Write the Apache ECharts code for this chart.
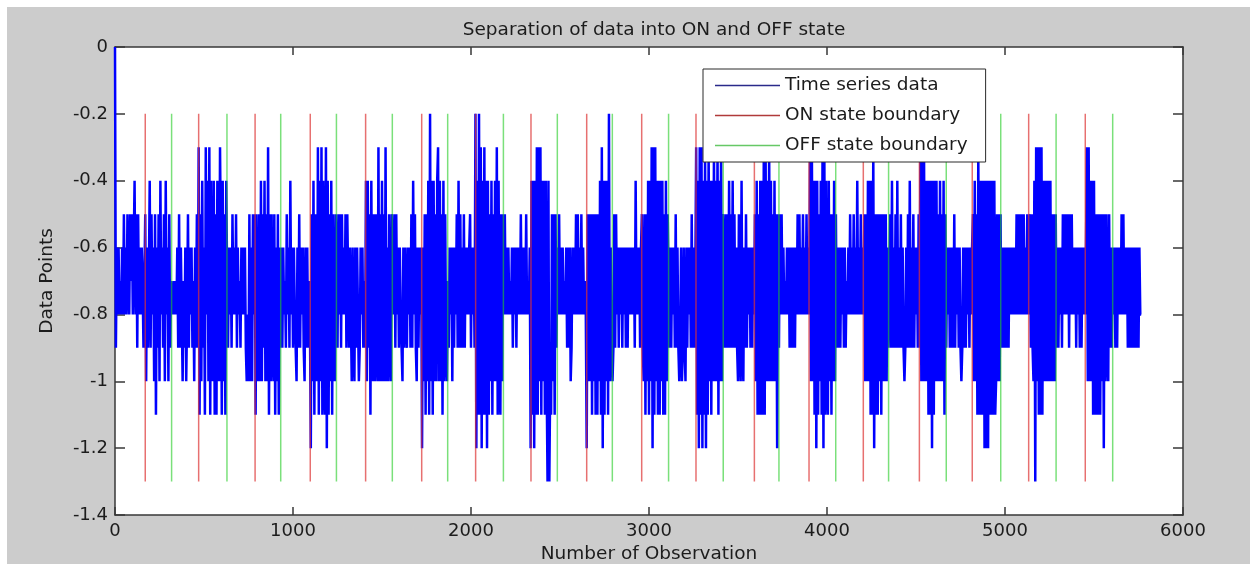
<!DOCTYPE html>
<html><head><meta charset="utf-8">
<script src="https://cdn.jsdelivr.net/npm/echarts@6/dist/echarts.min.js"></script>
<style>html,body{margin:0;padding:0;background:#fff}#chart{width:1250px;height:564px}</style>
</head><body><div id="chart"></div>
<script>
// ---- texts ----
const chartTitle = 'Separation of data into ON and OFF state';
const xAxisTitle = 'Number of Observation';
const yAxisTitle = 'Data Points';
const seriesNames = ['Time series data', 'ON state boundary', 'OFF state boundary'];

// ---- axes ----
const xRange = [0, 6000];
const xTickStep = 1000;
const yRange = [-1.4, 0];
const yTickStep = 0.2;

// ---- time series: one hex digit per observation sample,
// value = -digit/10 ; samples every observationStep observations ----
const observationStep = 5;
const timeSeriesSegments = [
  '0968687868586857857586485958686797',   // 0 - 170
  '5a69749586a5b695a48695a486a597',       // ON 1
  '78787869596' + '8a796a85968697a6959', // OFF 1
  '3b5a496b384a3b49a4b5b49a36b4a5b4',     // ON 2
  '79686958685968796868' + '69a8a5a6a585', // OFF 2
  'b59a5a4a594a5a3b5a59a5b6a5b69',        // ON 3
  '696879586948696' + '89a6959686' + '9a696978', // OFF 3
  'c5a4b59a3b4a3b4ab3c4b5a4b59a5',        // ON 4
  '595859586859579' + '68a69a6968a9686979', // OFF 4
  '4a495b49a5a59a3a5a4a5a3a6a59a5',       // ON 5
  '585958696' + '89a69689686959485' + '9a69686', // OFF 5
  'c6a5b5a4b2a4b4a5a43a4a5b4a59a',        // ON 6
  '79686a696859495969596868659686' + '9', // OFF 6
  '2c4b2b3c4b3b4c4b5a4b5a4a3b4ab5a',      // ON 7
  '5858686878696869686858686858786',      // OFF 7
  'c4b4c4b3b3a3b4a4b4ad4dab5a5b59',       // ON 8
  '685868687869696a968685858685868' + '78', // OFF 8
  'c5a5a5b5a5b5b5a4b3c4b4a4b2a69',        // ON 9
  'a959586968696869696868686948686' + '96', // OFF 9
  '59a5b5a4b4a3c3b3a4b4b4a4b5b4a5',       // ON 10
  '7969686959' + '69a96a969a69686959697', // OFF 10
  '3b4c3b3c4b3c4b3a4b4a3a4a3b4a3a5',      // ON 11
  '6959594959495969a59a49a6959686' + '96968', // OFF 11
  '5a4b5b4b4b3b3a4a3a4a5a4a5c59',         // ON 12
  '5858687868696969696858586858685868',   // OFF 12
  '3a3a4b4c4b5a4b3c3b4ab4a5b5a4a5',       // ON 13
  '9696968696978685868586848685868',      // OFF 13
  '5a5a4a4b4b3c5b5b5a5b5a5a5a69',         // ON 14
  '95949695949695969a9695949' + '6959686959', // OFF 14
  '3a3a3a4a4b4b4c4b4a4a5a4a5a4b59',       // ON 15
  '68696969596869' + '69a969696869686',   // OFF 15
  '5a4a5b3b4b4b4c4c4c4b4b4b4ba5a5a59',    // ON 16
  '6969696968686868585858585868586',      // OFF 16
  '5959a4d3a3b3b3b4a4a4a4a4a5a5a59',      // ON 17
  '696869585858595858686968696968686',    // OFF 17
  '3a3a4a4b4b5b5b5b5a5c5a59a596968',      // ON 18
  '6969686858586869696969696969688'       // 5605 - 5760
];

// ---- boundaries ----
const onBoundaries  = [170, 470, 787, 1097, 1408, 1723, 2026, 2337, 2650, 2959, 3264, 3592, 3899, 4204, 4519, 4816, 5133, 5451];
const offBoundaries = [318, 629, 931, 1244, 1558, 1869, 2182, 2485, 2794, 3110, 3417, 3730, 4049, 4346, 4670, 4976, 5287, 5605];
const boundarySpan = [-1.3, -0.2];

// ---- build ----
const values = timeSeriesSegments.join('').split('').map(c => -parseInt(c, 16) / 10);
const tsData = values.map((v, i) => [i * observationStep, v]);
function boundaryData(xs) {
  const out = [];
  xs.forEach(x => { out.push([x, boundarySpan[0]], [x, boundarySpan[1]], [x, null]); });
  return out;
}

const FONT = 'DejaVu Sans';
const txt = '#1c1c1c';
const axisCol = '#383838';

const chart = echarts.init(document.getElementById('chart'), null, {renderer: 'canvas'});
const axisLine = {show: true, onZero: false, lineStyle: {color: axisCol, width: 1.5}};
const tickX = {show: true, inside: true, length: 8, lineStyle: {color: axisCol, width: 1.5}};
const tickY = {show: true, inside: true, length: 10, lineStyle: {color: axisCol, width: 1.5}};
const fmt = v => String(Math.round(v * 10) / 10);
const legendTextStyle = {fontFamily: FONT, fontSize: 18.5, color: txt, lineHeight: 14};
chart.setOption({
  animation: false,
  backgroundColor: '#ffffff',
  graphic: [
    {type: 'rect', z: -100, silent: true, shape: {x: 7, y: 7, width: 1243, height: 557}, style: {fill: '#cccccc'}},
    {type: 'rect', z: -90, silent: true, shape: {x: 115, y: 47, width: 1068, height: 468}, style: {fill: '#ffffff'}}
  ],
  title: {text: chartTitle, left: 649, top: 16, textAlign: 'center',
    textStyle: {fontFamily: FONT, fontSize: 18.5, fontWeight: 'normal', color: txt}},
  legend: {
    data: [
      {name: seriesNames[0], icon: 'rect', itemStyle: {color: '#2a2a8a'}},
      {name: seriesNames[1], icon: 'rect', itemStyle: {color: '#b03a3a'}},
      {name: seriesNames[2], icon: 'rect', itemStyle: {color: '#66c866'}}
    ],
    orient: 'vertical', left: 703, top: 69,
    padding: [7, 18, 7, 12], itemWidth: 65, itemHeight: 1.5, itemGap: 11,
    backgroundColor: '#ffffff', borderColor: '#2a2a2a', borderWidth: 1, borderRadius: 0,
    selectedMode: false,
    textStyle: legendTextStyle
  },
  grid: {left: 115, right: 67, top: 47, bottom: 49, show: false, containLabel: false, outerBoundsMode: 'none'},
  xAxis: [{
    type: 'value', min: xRange[0], max: xRange[1], interval: xTickStep,
    name: xAxisTitle, nameLocation: 'middle', nameGap: 27,
    nameTextStyle: {fontFamily: FONT, fontSize: 18.5, color: txt},
    axisLine: axisLine, splitLine: {show: false}, axisTick: tickX,
    axisLabel: {fontFamily: FONT, fontSize: 18, color: txt, margin: 7, formatter: fmt}
  }, {
    type: 'value', position: 'top', min: xRange[0], max: xRange[1], interval: xTickStep,
    axisLine: axisLine, splitLine: {show: false}, axisTick: tickX,
    axisLabel: {show: false}
  }],
  yAxis: [{
    type: 'value', min: yRange[0], max: yRange[1], interval: yTickStep,
    name: yAxisTitle, nameLocation: 'middle', nameGap: 58, nameRotate: 90,
    nameTextStyle: {fontFamily: FONT, fontSize: 18.5, color: txt},
    axisLine: axisLine, splitLine: {show: false}, axisTick: tickY,
    axisLabel: {fontFamily: FONT, fontSize: 18, color: txt, margin: 7, formatter: fmt}
  }, {
    type: 'value', position: 'right', min: yRange[0], max: yRange[1], interval: yTickStep,
    axisLine: axisLine, splitLine: {show: false}, axisTick: tickY,
    axisLabel: {show: false}
  }],
  series: [{
    name: seriesNames[0], type: 'line', data: tsData, symbol: 'none', z: 2,
    lineStyle: {color: '#0000ff', width: 2.5}, itemStyle: {color: '#2a2a8a'}
  }, {
    name: seriesNames[1], type: 'line', data: boundaryData(onBoundaries), symbol: 'none', connectNulls: false, z: 3,
    lineStyle: {color: '#dd3333', width: 1.5, opacity: 0.7}, itemStyle: {color: '#b03a3a'}
  }, {
    name: seriesNames[2], type: 'line', data: boundaryData(offBoundaries), symbol: 'none', connectNulls: false, z: 3,
    lineStyle: {color: '#22cc22', width: 1.5, opacity: 0.6}, itemStyle: {color: '#66c866'}
  }]
});
</script></body></html>
